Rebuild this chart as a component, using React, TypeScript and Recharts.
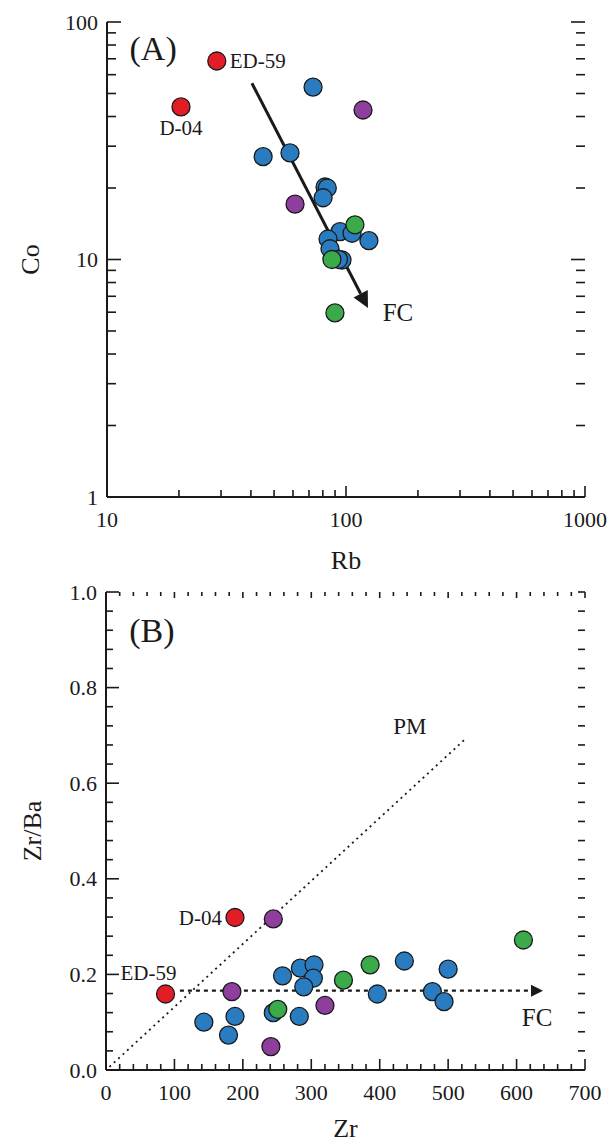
import React from "react";
import {
  ScatterChart,
  Scatter,
  XAxis,
  YAxis,
  ReferenceLine,
  ReferenceDot,
} from "recharts";

const FONT = "'Liberation Serif', 'Times New Roman', Times, serif";
const INK = "#1a1a1a";

// ---- panel A : Rb vs Co (log-log) ----
const blueRbA = [72.8, 45, 58.3, 81.7, 83.5, 80.2, 94.4, 106, 124.7, 84.1, 85.7, 96.2, 93];
const blueCoA = [53.2, 27.1, 28.1, 20.2, 20.0, 18.2, 13.1, 12.9, 12.0, 12.2, 11.1, 9.95, 10.0];
const purpleRbA = [117.8, 61.2];
const purpleCoA = [42.6, 17.1];
const greenRbA = [109, 87.3, 89.9];
const greenCoA = [14.0, 10.0, 5.96];
const redNames = ["ED-59", "D-04"];
const redRbA = [28.8, 20.4];
const redCoA = [68.5, 43.9];
const fcLineA = { rb: [40.4, 123.6], co: [55.2, 6.25] };

const rbLabels = [10, 100, 1000];
const coLabels = [1, 10, 100];

// ---- panel B : Zr vs Zr/Ba ----
const blueZrB = [143, 188.5, 179, 244.5, 258, 284, 304, 303, 289, 282.5, 396.5, 436, 500, 477, 494];
const blueRatioB = [0.1, 0.112, 0.073, 0.12, 0.197, 0.213, 0.22, 0.192, 0.174, 0.112, 0.159, 0.228, 0.211, 0.164, 0.143];
const purpleZrB = [244.5, 184, 241, 320];
const purpleRatioB = [0.316, 0.164, 0.049, 0.135];
const greenZrB = [251, 347, 386, 610];
const greenRatioB = [0.127, 0.188, 0.22, 0.272];
const redZrB = [87, 188.5];
const redRatioB = [0.159, 0.319];
const pmLine = { zr: [5, 527], ratio: [0.0066, 0.695] };
const fcLineB = { zr: [108, 638.6], ratio: [0.166, 0.166] };

const zrLabels = [0, 100, 200, 300, 400, 500, 600, 700];
const ratioLabels = [0, 0.2, 0.4, 0.6, 0.8, 1.0];

const COLORS = {
  blue: "#2a7cc0",
  purple: "#8e3f9e",
  green: "#3aaa4a",
  red: "#e31d25",
};

// minor tick positions
const logMinor = (lo: number, hi: number) => {
  const out: number[] = [];
  for (let d = lo; d < hi; d *= 10) for (let k = 1; k < 10; k++) out.push(d * k);
  out.push(hi);
  return out;
};
const steps = (lo: number, hi: number, step: number) => {
  const out: number[] = [];
  const n = Math.round((hi - lo) / step);
  for (let i = 0; i <= n; i++) out.push(+(lo + i * step).toFixed(4));
  return out;
};

const pts = (xs: number[], ys: number[]) => xs.map((x, i) => ({ x, y: ys[i] }));
const isMajor = (majors: number[], v: number) =>
  majors.some((m) => Math.abs(m - v) < 1e-6 * Math.max(1, m));

const textStyle = (size: number) => ({ fontFamily: FONT, fontSize: size });

// right-side ticks + left labels
type Len = [number, number];
const hTicks = (id: string, values: number[], majors: number[], right: Len, fmt: (v: number) => string) =>
  values.map((v) => {
    const m = isMajor(majors, v);
    const r = m ? right[0] : right[1];
    return (
      <ReferenceLine
        key={`${id}-h-${v}`}
        y={v}
        ifOverflow="visible"
        shape={(p: any) => {
          const xa = Math.min(p.x1, p.x2);
          const xb = Math.max(p.x1, p.x2);
          const y = p.y1;
          return (
            <g>
              {r > 0 && <line x1={xb - r} y1={y} x2={xb} y2={y} stroke={INK} strokeWidth={1.6} />}
              {m && (
                <text x={xa - 9} y={y} textAnchor="end" dominantBaseline="central" fill={INK} style={textStyle(22)}>
                  {fmt(v)}
                </text>
              )}
            </g>
          );
        }}
      />
    );
  });

// top-side ticks + bottom labels
const vTicks = (id: string, values: number[], majors: number[], top: Len, fmt: (v: number) => string) =>
  values.map((v) => {
    const m = isMajor(majors, v);
    const t = m ? top[0] : top[1];
    return (
      <ReferenceLine
        key={`${id}-v-${v}`}
        x={v}
        ifOverflow="visible"
        shape={(p: any) => {
          const ya = Math.min(p.y1, p.y2);
          const yb = Math.max(p.y1, p.y2);
          const x = p.x1;
          return (
            <g>
              {t > 0 && <line x1={x} y1={ya} x2={x} y2={ya + t} stroke={INK} strokeWidth={1.6} />}
              {m && (
                <text x={x} y={yb + 22} textAnchor="middle" dominantBaseline="central" fill={INK} style={textStyle(22)}>
                  {fmt(v)}
                </text>
              )}
            </g>
          );
        }}
      />
    );
  });

// left / bottom inward ticks, placed as marks on the frame edge
const leftTickData = (values: number[], majors: number[], xEdge: number) =>
  values.map((v) => ({ x: xEdge, y: v, major: isMajor(majors, v) }));
const bottomTickData = (values: number[], majors: number[], yEdge: number) =>
  values.map((v) => ({ x: v, y: yEdge, major: isMajor(majors, v) }));
const leftTickShape = (len: Len) => (p: any) =>
  <line x1={p.cx} y1={p.cy} x2={p.cx + (p.payload.major ? len[0] : len[1])} y2={p.cy} stroke={INK} strokeWidth={1.6} />;
const bottomTickShape = (len: Len) => (p: any) =>
  <line x1={p.cx} y1={p.cy} x2={p.cx} y2={p.cy - (p.payload.major ? len[0] : len[1])} stroke={INK} strokeWidth={1.6} />;

// axis titles, drawn off the frame edges
const titles = (id: string, xMin: number, yMin: number, xText: string, yText: string, xGap: number, yGap: number) => [
  <ReferenceLine
    key={`${id}-xt`}
    y={yMin}
    ifOverflow="visible"
    shape={(p: any) => (
      <text
        x={(p.x1 + p.x2) / 2}
        y={p.y1 + xGap}
        textAnchor="middle"
        dominantBaseline="central"
        fill={INK}
        style={textStyle(26)}
      >
        {xText}
      </text>
    )}
  />,
  <ReferenceLine
    key={`${id}-yt`}
    x={xMin}
    ifOverflow="visible"
    shape={(p: any) => {
      const cx = p.x1 - yGap;
      const cy = (p.y1 + p.y2) / 2;
      return (
        <text
          x={cx}
          y={cy}
          transform={`rotate(-90 ${cx} ${cy})`}
          textAnchor="middle"
          dominantBaseline="central"
          fill={INK}
          style={textStyle(26)}
        >
          {yText}
        </text>
      );
    }}
  />,
];

const dot = (color: string) => (p: any) =>
  <circle cx={p.cx} cy={p.cy} r={9} fill={color} stroke={INK} strokeWidth={1.3} />;

const arrowShape = (w: number, head: number, half: number, dash?: string) => (p: any) => {
  const { x1, y1, x2, y2 } = p;
  const dx = x2 - x1;
  const dy = y2 - y1;
  const L = Math.hypot(dx, dy) || 1;
  const ux = dx / L;
  const uy = dy / L;
  const bx = x2 - ux * head;
  const by = y2 - uy * head;
  const px = -uy;
  const py = ux;
  return (
    <g>
      <line x1={x1} y1={y1} x2={bx} y2={by} stroke={INK} strokeWidth={w} strokeDasharray={dash} />
      <polygon
        points={`${x2},${y2} ${bx + px * half},${by + py * half} ${bx - px * half},${by - py * half}`}
        fill={INK}
      />
    </g>
  );
};

const note = (
  key: string,
  x: number,
  y: number,
  text: string,
  dx: number,
  dy: number,
  size: number,
  anchor: "start" | "middle" | "end" = "middle"
) => (
  <ReferenceDot
    key={key}
    x={x}
    y={y}
    r={0}
    fill="none"
    stroke="none"
    ifOverflow="visible"
    label={{
      content: (p: any) => (
        <text
          x={p.viewBox.x + dx}
          y={p.viewBox.y + dy}
          textAnchor={anchor}
          dominantBaseline="central"
          fill={INK}
          style={textStyle(size)}
        >
          {text}
        </text>
      ),
    }}
  />
);

const axisLine = { stroke: INK, strokeWidth: 2 };
const plain = (v: number) => String(v);
const oneDec = (v: number) => v.toFixed(1);

const PanelA = () => (
  <ScatterChart width={609} height={580} margin={{ top: 22, right: 24, bottom: 0, left: 0 }}>
    <XAxis type="number" dataKey="x" scale="log" domain={[10, 1000]} height={83} axisLine={axisLine} tick={false} tickLine={false} />
    <XAxis xAxisId="t" orientation="top" type="number" scale="log" domain={[10, 1000]} height={0} axisLine={axisLine} tick={false} tickLine={false} />
    <YAxis type="number" dataKey="y" scale="log" domain={[1, 100]} width={107} axisLine={axisLine} tick={false} tickLine={false} />
    <YAxis yAxisId="r" orientation="right" type="number" scale="log" domain={[1, 100]} width={0} axisLine={axisLine} tick={false} tickLine={false} />
    {hTicks("a", logMinor(1, 100), coLabels, [14, 9], plain)}
    {vTicks("a", logMinor(10, 1000), rbLabels, [0, 0], plain)}
    {titles("a", 10, 1, "Rb", "Co", 63, 77)}
    <ReferenceLine
      segment={[
        { x: fcLineA.rb[0], y: fcLineA.co[0] },
        { x: fcLineA.rb[1], y: fcLineA.co[1] },
      ]}
      shape={arrowShape(3, 16, 8)}
    />
    <Scatter data={pts(blueRbA, blueCoA)} shape={dot(COLORS.blue)} isAnimationActive={false} />
    <Scatter data={pts(purpleRbA, purpleCoA)} shape={dot(COLORS.purple)} isAnimationActive={false} />
    <Scatter data={pts(greenRbA, greenCoA)} shape={dot(COLORS.green)} isAnimationActive={false} />
    <Scatter data={pts(redRbA, redCoA)} shape={dot(COLORS.red)} isAnimationActive={false} />
    <Scatter data={leftTickData(logMinor(1, 100), coLabels, 10)} shape={leftTickShape([14, 9])} legendType="none" isAnimationActive={false} />
    <Scatter data={bottomTickData(logMinor(10, 1000), rbLabels, 1)} shape={bottomTickShape([11, 7])} legendType="none" isAnimationActive={false} />
    {note("a-ed59", redRbA[0], redCoA[0], redNames[0], 13, 0, 21, "start")}
    {note("a-d04", redRbA[1], redCoA[1], redNames[1], 0, 21, 21, "middle")}
    {note("a-fc", 165, 6.0, "FC", 0, 0, 25)}
    {note("a-tag", 15.6, 77.7, "(A)", 0, 0, 34)}
  </ScatterChart>
);

const PanelB = () => (
  <ScatterChart width={609} height={563} margin={{ top: 12, right: 24, bottom: 0, left: 0 }}>
    <XAxis type="number" dataKey="x" domain={[0, 700]} height={73} axisLine={axisLine} tick={false} tickLine={false} />
    <XAxis xAxisId="t" orientation="top" type="number" domain={[0, 700]} height={0} axisLine={axisLine} tick={false} tickLine={false} />
    <YAxis type="number" dataKey="y" domain={[0, 1]} width={106} axisLine={axisLine} tick={false} tickLine={false} />
    <YAxis yAxisId="r" orientation="right" type="number" domain={[0, 1]} width={0} axisLine={axisLine} tick={false} tickLine={false} />
    {hTicks("b", steps(0, 1, 0.04), ratioLabels, [7, 7], oneDec)}
    {vTicks("b", steps(0, 700, 20), zrLabels, [6, 4], plain)}
    {titles("b", 0, 0, "Zr", "Zr/Ba", 58, 74)}
    <ReferenceLine
      segment={[
        { x: pmLine.zr[0], y: pmLine.ratio[0] },
        { x: pmLine.zr[1], y: pmLine.ratio[1] },
      ]}
      stroke={INK}
      strokeWidth={1.8}
      strokeDasharray="2 4"
    />
    <ReferenceLine
      segment={[
        { x: fcLineB.zr[0], y: fcLineB.ratio[0] },
        { x: fcLineB.zr[1], y: fcLineB.ratio[1] },
      ]}
      shape={arrowShape(2.2, 12, 6, "4 4")}
    />
    <Scatter data={pts(blueZrB, blueRatioB)} shape={dot(COLORS.blue)} isAnimationActive={false} />
    <Scatter data={pts(purpleZrB, purpleRatioB)} shape={dot(COLORS.purple)} isAnimationActive={false} />
    <Scatter data={pts(greenZrB, greenRatioB)} shape={dot(COLORS.green)} isAnimationActive={false} />
    <Scatter data={pts(redZrB, redRatioB)} shape={dot(COLORS.red)} isAnimationActive={false} />
    <Scatter data={leftTickData(steps(0, 1, 0.04), ratioLabels, 0)} shape={leftTickShape([13, 7])} legendType="none" isAnimationActive={false} />
    <Scatter data={bottomTickData(steps(0, 700, 20), zrLabels, 0)} shape={bottomTickShape([11, 6])} legendType="none" isAnimationActive={false} />
    {note("b-ed59", redZrB[0], redRatioB[0], redNames[0], -17, -21, 21, "middle")}
    {note("b-d04", redZrB[1], redRatioB[1], redNames[1], -13, 0, 21, "end")}
    {note("b-pm", 444, 0.718, "PM", 0, 0, 23)}
    {note("b-fc", 630, 0.109, "FC", 0, 0, 25)}
    {note("b-tag", 67, 0.92, "(B)", 0, 0, 34)}
  </ScatterChart>
);

export default function App() {
  return (
    <div style={{ position: "absolute", left: 0, top: 0, width: 609, height: 1143, background: "#fff", fontFamily: FONT }}>
      <PanelA />
      <PanelB />
    </div>
  );
}
